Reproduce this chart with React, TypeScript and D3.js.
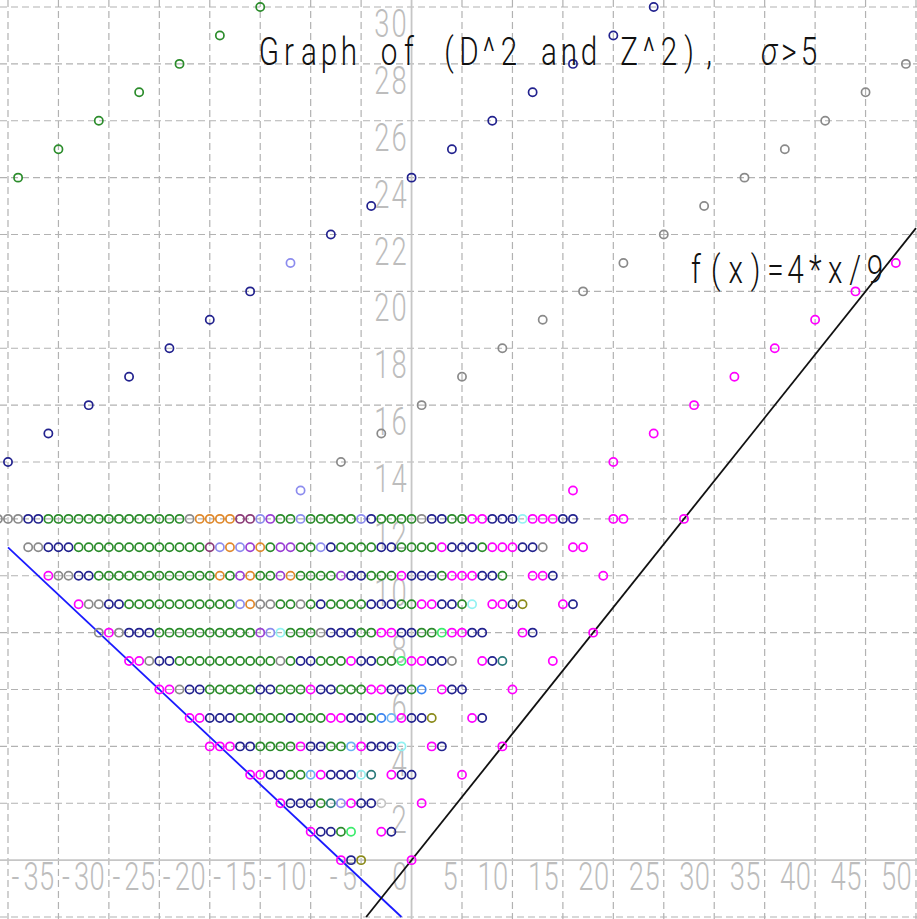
import React from "react";
import * as d3 from "d3";

const W = 917;
const H = 919;

const xDomain = [-40, 50];
const yDomain = [-2, 30];

const xGridValues = [-40, -35, -30, -25, -20, -15, -10, -5, 5, 10, 15, 20, 25, 30, 35, 40, 45, 50];
const yGridValues = [-2, 2, 4, 6, 8, 10, 12, 14, 16, 18, 20, 22, 24, 26, 28, 30];
const xTickLabels = [-35, -30, -25, -20, -15, -10, -5, 0, 5, 10, 15, 20, 25, 30, 35, 40, 45, 50];
const yTickLabels = [2, 4, 6, 8, 10, 12, 14, 16, 18, 20, 22, 24, 26, 28, 30];

const titleText = "Graph of (D^2 and Z^2),  σ>5";
const titleItalicChars = ["σ"];
const fLabel = "f(x)=4*x/9";

// rows of points at integer y; one colour code per consecutive integer x ('.' = no point)
const rowY = [12, 11, 10, 9, 8, 7, 6, 5, 4, 3, 2, 1, 0];
const rowStartX = [-41, -38, -36, -33, -31, -28, -25, -22, -20, -16, -13, -10, -7];
const rowColorCodes = [
  "aaann" + "gggggggggggggg" + "aoooo" + "ddlp" + "ggl" + "ggggg" + "ln" + "gggg" + "ann" + "gg" + "mm" + "nnn" + "c" + "mmm" + "nn" + "..." + "mm" + "....." + "m",
  "aannn" + "ggggggggggggg" + "dlolpogppgg" + "ln" + "gggg" + "nn" + "gggg" + "m" + "nnn" + "g" + "mmm" + "nn" + "a" + ".." + "mm",
  "maann" + "gggggggggggg" + "ogpoggpogg" + "gg" + "p" + "nn" + "ggg" + "m" + "nnn" + "g" + "mmm" + "nn" + "g" + ".." + "mm" + "n" + "...." + "m",
  "maann" + "ggggggggggg" + "loaagga" + "gn" + "gggg" + "nnn" + "gg" + "mm" + "nn" + "g" + "c" + "." + "mm" + "n" + "y" + "..." + "m" + "n",
  "amannn" + "gggggggggg" + "plc" + "ggg" + "a" + "nnn" + "gg" + "mm" + "nn" + "gg" + "G" + "mm" + "nn" + "..." + "m" + "n" + "....." + "m",
  "mmann" + "gggggggggg" + "agnn" + "ggg" + "m" + "nn" + "gg" + "G" + "mm" + "nn" + "a" + ".." + "m" + "n" + "t" + "...." + "m",
  "mmann" + "ggggg" + "nn" + "ggg" + "m" + "nn" + "ggg" + "mm" + "nn" + "g" + "e" + "." + "m" + "nn" + "...." + "m",
  "mmnnn" + "ggggg" + "n" + "ggg" + "mm" + "nn" + "g" + "eb" + "m" + "nn" + "y" + "..." + "m" + "n",
  "mmmnn" + "gggg" + "mnn" + "gg" + "b" + "m" + "nnn" + "c" + ".." + "m" + "n" + "....." + "m",
  "mmnngg" + "b" + "m" + "nnn" + "c" + "t" + "." + "m" + "nn" + "...." + "m",
  "mnnngtlmnnh" + "..." + "m",
  "mnngG" + ".." + "mn",
  "mny" + "...." + "m",
];

// diagonal sequences above the rows
const greenDiagX = [-39, -35, -31, -27, -23, -19, -15];
const greenDiagY = [24, 25, 26, 27, 28, 29, 30];
const navyDiagX = [-40, -36, -32, -28, -24, -20, -16, -12, -8, -4, 0, 4, 8, 12, 16, 20, 24];
const navyDiagY = [14, 15, 16, 17, 18, 19, 20, 21, 22, 23, 24, 25, 26, 27, 28, 29, 30];
const navyDiagCodes = "nnnnnnnlnnnnnnnnn";
const grayDiagX = [-11, -7, -3, 1, 5, 9, 13, 17, 21, 25, 29, 33, 37, 41, 45, 49];
const grayDiagY = [13, 14, 15, 16, 17, 18, 19, 20, 21, 22, 23, 24, 25, 26, 27, 28];
const grayDiagCodes = "laaaaaaaaaaaaaaa";
const magentaDiagX = [16, 20, 24, 28, 32, 36, 40, 44, 48];
const magentaDiagY = [13, 14, 15, 16, 17, 18, 19, 20, 21];

const blueLineX = [-40, -1];
const blueLineY = [11, -2];
const fLineX = [-4.5, 50];
const f = (x: number) => (4 * x) / 9;

const palette: Record<string, string> = {
  g: "#2b8c2b",
  n: "#22228e",
  a: "#8a8a8a",
  m: "#ff00ff",
  o: "#e0892c",
  p: "#9a3fd4",
  l: "#8c8cee",
  d: "#8b3a78",
  c: "#92f2f2",
  b: "#6cb2f2",
  e: "#3a84f0",
  t: "#2a7a7a",
  y: "#8a8a1a",
  G: "#3cec6c",
  h: "#c4c4c4",
};

type Pt = { x: number; y: number; c: string };

const FONT = "Roboto, 'DejaVu Sans', sans-serif";

function MonoText(props: {
  x0: number;
  baseline: number;
  cell: number;
  text: string;
  fontSize: number;
  scaleX: number;
  fill: string;
  weight: number;
  italic?: string[];
  anchorEnd?: boolean;
}) {
  const chars = Array.from(props.text);
  const start = props.anchorEnd ? props.x0 - chars.length * props.cell : props.x0;
  return (
    <g fill={props.fill} fontFamily={FONT} fontSize={props.fontSize} fontWeight={props.weight}>
      {chars.map((ch, i) =>
        ch === " " ? null : (
          <text
            key={i}
            transform={`translate(${start + (i + 0.5) * props.cell},${props.baseline}) scale(${props.scaleX},1)`}
            textAnchor="middle"
            fontStyle={props.italic && props.italic.includes(ch) ? "italic" : "normal"}
          >
            {ch}
          </text>
        )
      )}
    </g>
  );
}

export default function App() {
  const x = d3.scaleLinear().domain(xDomain).range([8, 916]);
  const y = d3.scaleLinear().domain(yDomain).range([917, 7]);

  const pts: Pt[] = [];
  rowY.forEach((ry, i) => {
    const codes = rowColorCodes[i];
    for (let k = 0; k < codes.length; k++) {
      const ch = codes[k];
      if (ch === ".") continue;
      pts.push({ x: rowStartX[i] + k, y: ry, c: palette[ch] });
    }
  });
  greenDiagX.forEach((v, i) => pts.push({ x: v, y: greenDiagY[i], c: palette.g }));
  navyDiagX.forEach((v, i) => pts.push({ x: v, y: navyDiagY[i], c: palette[navyDiagCodes[i]] }));
  grayDiagX.forEach((v, i) => pts.push({ x: v, y: grayDiagY[i], c: palette[grayDiagCodes[i]] }));
  magentaDiagX.forEach((v, i) => pts.push({ x: v, y: magentaDiagY[i], c: palette.m }));

  const line = d3.line<[number, number]>().x((d) => x(d[0])).y((d) => y(d[1]));
  const bluePath = line([
    [blueLineX[0], blueLineY[0]],
    [blueLineX[1], blueLineY[1]],
  ]) as string;
  const fPath = line(fLineX.map((v) => [v, f(v)] as [number, number])) as string;

  const tickCell = 15.6;

  return (
    <svg
      width={W}
      height={H}
      viewBox={`0 0 ${W} ${H}`}
      style={{ position: "absolute", left: 0, top: 0, background: "#fff" }}
    >
      <rect x={0} y={0} width={W} height={H} fill="#fff" />
      {/* grid */}
      <g stroke="#b2b2b2" strokeWidth={1.2} strokeDasharray="7 4" fill="none">
        {xGridValues.map((v) => (
          <line key={"gx" + v} x1={x(v)} x2={x(v)} y1={0} y2={H} />
        ))}
        {yGridValues.map((v) => (
          <line key={"gy" + v} x1={0} x2={W} y1={y(v)} y2={y(v)} />
        ))}
      </g>
      {/* axes */}
      <g stroke="#c6c6c6" strokeWidth={1.8}>
        <line x1={0} x2={W} y1={y(0)} y2={y(0)} />
        <line x1={x(0)} x2={x(0)} y1={0} y2={H} />
      </g>
      {/* tick labels */}
      {xTickLabels.map((v) => (
        <MonoText
          key={"tx" + v}
          x0={x(v) - 4}
          baseline={y(0) + 30}
          cell={tickCell}
          text={String(v)}
          fontSize={38}
          scaleX={0.72}
          fill="#bdbdbd"
          weight={300}
          anchorEnd
        />
      ))}
      {yTickLabels.map((v) => (
        <MonoText
          key={"ty" + v}
          x0={x(0) - 4}
          baseline={y(v) + 30}
          cell={tickCell + 1.5}
          text={String(v)}
          fontSize={38}
          scaleX={0.72}
          fill="#bdbdbd"
          weight={300}
          anchorEnd
        />
      ))}
      {/* lines */}
      <path d={bluePath} stroke="#1a1aff" strokeWidth={1.8} fill="none" />
      <path d={fPath} stroke="#111" strokeWidth={1.8} fill="none" />
      {/* points */}
      <g fill="none" strokeWidth={1.7}>
        {pts.map((p, i) => (
          <circle key={i} cx={x(p.x)} cy={y(p.y)} r={4.1} stroke={p.c} />
        ))}
      </g>
      {/* title */}
      <MonoText
        x0={259}
        baseline={65}
        cell={20}
        text={titleText}
        fontSize={38}
        scaleX={0.78}
        fill="#111"
        weight={300}
        italic={titleItalicChars}
      />
      <MonoText
        x0={686}
        baseline={283}
        cell={19.9}
        text={fLabel}
        fontSize={38}
        scaleX={0.78}
        fill="#111"
        weight={300}
      />
    </svg>
  );
}
